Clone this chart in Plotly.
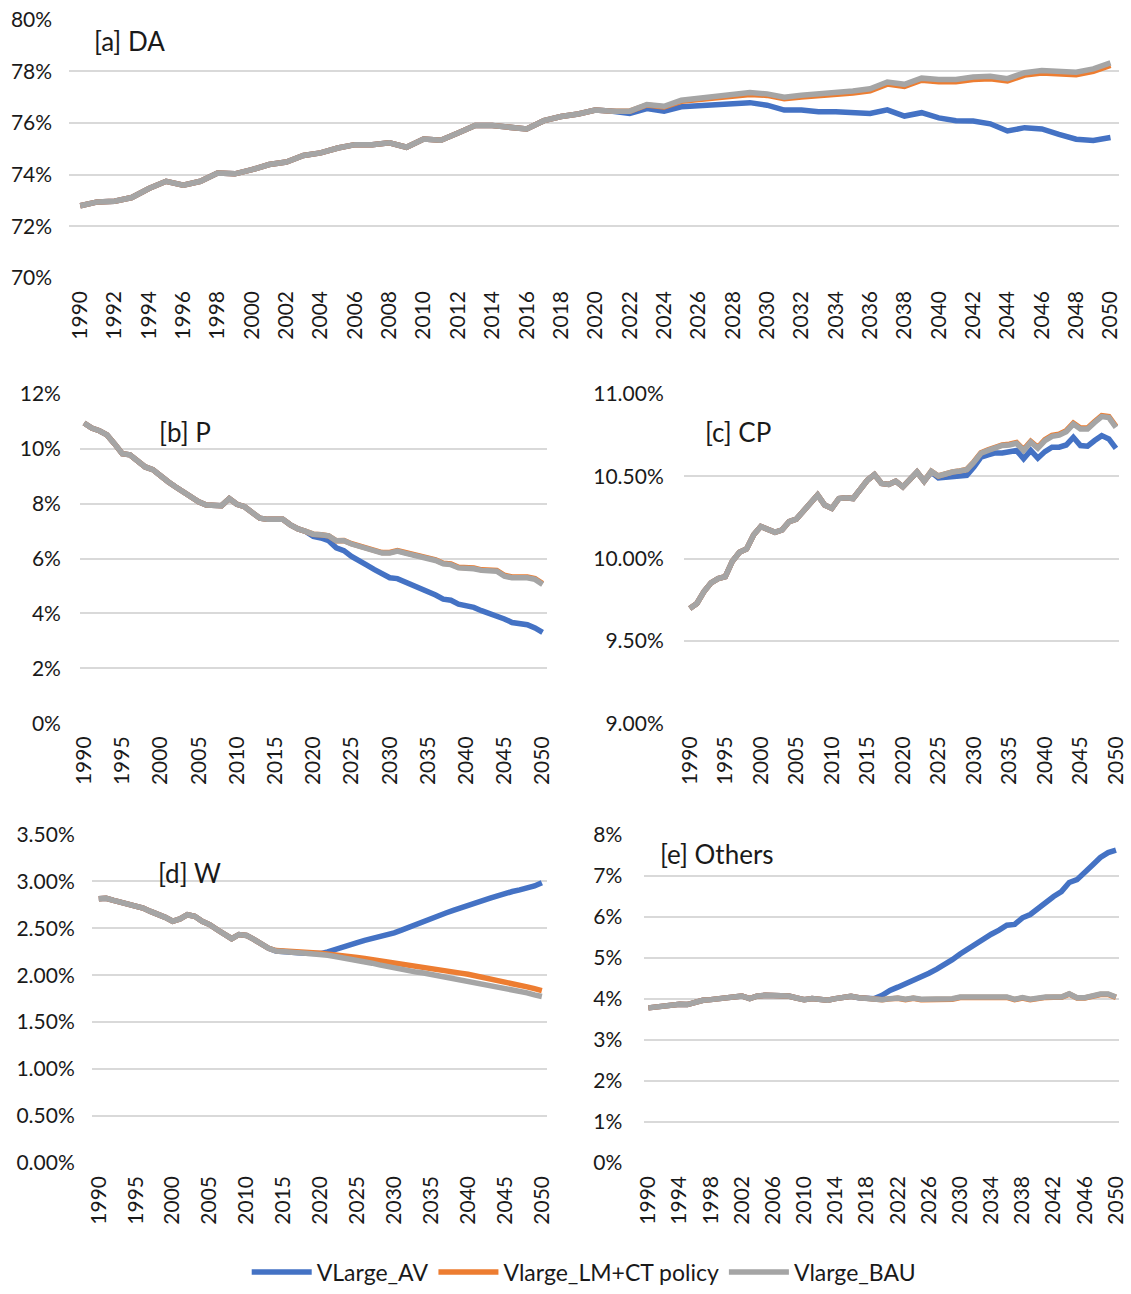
import plotly.graph_objects as go

# ---------------------------------------------------------------------------
# Shares by segment, 1990-2050 (percent)
# ---------------------------------------------------------------------------
years = list(range(1990, 2051))

series_names = ["VLarge_AV", "Vlarge_LM+CT policy", "Vlarge_BAU"]
series_colors = ["#4472C4", "#ED7D31", "#A5A5A5"]

# [a] DA
da_av = [72.79, 72.94, 72.97, 73.11, 73.46, 73.74, 73.59, 73.74, 74.06, 74.03,
         74.19, 74.39, 74.49, 74.74, 74.84, 75.03, 75.16, 75.16, 75.23, 75.06,
         75.38, 75.33, 75.61, 75.90, 75.90, 75.85, 75.77, 76.09, 76.25, 76.35,
         76.50, 76.46, 76.37, 76.56, 76.46, 76.63, 76.67, 76.69, 76.73, 76.79,
         76.69, 76.50, 76.50, 76.44, 76.44, 76.40, 76.37, 76.51, 76.27, 76.40,
         76.20, 76.09, 76.08, 75.97, 75.69, 75.82, 75.77, 75.56, 75.37, 75.32,
         75.44]
da_lmct = [72.79, 72.94, 72.97, 73.11, 73.46, 73.74, 73.59, 73.74, 74.06, 74.03,
           74.19, 74.39, 74.49, 74.74, 74.84, 75.03, 75.16, 75.16, 75.23, 75.06,
           75.38, 75.33, 75.61, 75.90, 75.90, 75.85, 75.77, 76.09, 76.25, 76.35,
           76.50, 76.46, 76.46, 76.70, 76.62, 76.84, 76.90, 76.96, 77.04, 77.11,
           77.07, 76.94, 77.01, 77.05, 77.12, 77.16, 77.25, 77.51, 77.42, 77.66,
           77.60, 77.60, 77.69, 77.72, 77.63, 77.86, 77.94, 77.90, 77.87, 78.00,
           78.23]
da_bau = [72.79, 72.94, 72.97, 73.11, 73.46, 73.74, 73.59, 73.74, 74.06, 74.03,
          74.19, 74.39, 74.49, 74.74, 74.84, 75.03, 75.16, 75.16, 75.23, 75.06,
          75.38, 75.33, 75.61, 75.90, 75.90, 75.85, 75.77, 76.09, 76.25, 76.35,
          76.50, 76.46, 76.46, 76.72, 76.65, 76.88, 76.95, 77.01, 77.10, 77.18,
          77.13, 77.00, 77.08, 77.12, 77.20, 77.24, 77.33, 77.59, 77.50, 77.74,
          77.69, 77.69, 77.78, 77.81, 77.72, 77.95, 78.04, 78.00, 77.97, 78.10,
          78.33]

# [b] P
p_av = [10.94, 10.76, 10.66, 10.51, 10.18, 9.82, 9.78, 9.58, 9.34, 9.24,
        9.00, 8.80, 8.61, 8.43, 8.25, 8.07, 7.95, 7.93, 7.93, 8.19,
        7.98, 7.89, 7.65, 7.47, 7.43, 7.43, 7.43, 7.23, 7.08, 6.99,
        6.81, 6.75, 6.65, 6.39, 6.29, 6.08, 5.90, 5.76, 5.60, 5.45,
        5.30, 5.27, 5.16, 5.04, 4.92, 4.82, 4.67, 4.52, 4.48, 4.34,
        4.28, 4.22, 4.10, 4.00, 3.95, 3.80, 3.67, 3.64, 3.59, 3.47,
        3.31]
p_lmct = [10.94, 10.76, 10.66, 10.51, 10.18, 9.82, 9.78, 9.58, 9.34, 9.24,
          9.00, 8.80, 8.61, 8.43, 8.25, 8.07, 7.95, 7.93, 7.93, 8.19,
          7.98, 7.89, 7.65, 7.47, 7.43, 7.43, 7.43, 7.23, 7.08, 6.99,
          6.89, 6.87, 6.83, 6.65, 6.66, 6.54, 6.46, 6.40, 6.30, 6.22,
          6.22, 6.29, 6.22, 6.16, 6.10, 6.02, 5.95, 5.83, 5.80, 5.68,
          5.68, 5.66, 5.59, 5.56, 5.57, 5.39, 5.33, 5.33, 5.33, 5.27,
          5.09]
p_bau = [10.94, 10.76, 10.66, 10.51, 10.18, 9.82, 9.78, 9.58, 9.34, 9.24,
         9.00, 8.80, 8.61, 8.43, 8.25, 8.07, 7.95, 7.93, 7.93, 8.19,
         7.98, 7.89, 7.65, 7.47, 7.43, 7.43, 7.43, 7.23, 7.08, 6.99,
         6.89, 6.87, 6.83, 6.65, 6.65, 6.53, 6.45, 6.39, 6.29, 6.20,
         6.20, 6.27, 6.20, 6.14, 6.08, 6.00, 5.93, 5.81, 5.78, 5.66,
         5.66, 5.63, 5.57, 5.54, 5.54, 5.36, 5.30, 5.30, 5.30, 5.24,
         5.06]

# [c] CP
cp_av = [9.697, 9.727, 9.800, 9.853, 9.878, 9.890, 9.984, 10.038, 10.058, 10.145,
         10.195, 10.175, 10.160, 10.175, 10.225, 10.240, 10.285, 10.335, 10.386, 10.325,
         10.305, 10.365, 10.370, 10.365, 10.426, 10.476, 10.510, 10.456, 10.450, 10.470,
         10.436, 10.486, 10.526, 10.470, 10.525, 10.490, 10.494, 10.502, 10.506, 10.506,
         10.556, 10.616, 10.630, 10.642, 10.642, 10.650, 10.657, 10.606, 10.657, 10.610,
         10.650, 10.677, 10.677, 10.690, 10.737, 10.687, 10.683, 10.717, 10.747, 10.727,
         10.670]
cp_lmct = [9.697, 9.727, 9.800, 9.853, 9.878, 9.890, 9.984, 10.038, 10.058, 10.145,
           10.195, 10.175, 10.160, 10.175, 10.225, 10.240, 10.285, 10.335, 10.386, 10.325,
           10.305, 10.365, 10.370, 10.365, 10.426, 10.476, 10.510, 10.456, 10.450, 10.470,
           10.436, 10.486, 10.526, 10.470, 10.530, 10.502, 10.516, 10.527, 10.533, 10.542,
           10.588, 10.643, 10.661, 10.674, 10.691, 10.695, 10.705, 10.662, 10.712, 10.676,
           10.722, 10.749, 10.756, 10.777, 10.823, 10.793, 10.793, 10.833, 10.869, 10.863,
           10.803]
cp_bau = [9.697, 9.727, 9.800, 9.853, 9.878, 9.890, 9.984, 10.038, 10.058, 10.145,
          10.195, 10.175, 10.160, 10.175, 10.225, 10.240, 10.285, 10.335, 10.386, 10.325,
          10.305, 10.365, 10.370, 10.365, 10.426, 10.476, 10.510, 10.456, 10.450, 10.470,
          10.436, 10.486, 10.526, 10.470, 10.530, 10.502, 10.516, 10.526, 10.532, 10.540,
          10.586, 10.640, 10.657, 10.670, 10.687, 10.690, 10.700, 10.657, 10.707, 10.670,
          10.717, 10.743, 10.750, 10.771, 10.817, 10.787, 10.787, 10.827, 10.863, 10.857,
          10.797]

# [d] W
w_av = [2.814, 2.820, 2.797, 2.775, 2.750, 2.740, 2.716, 2.680, 2.656, 2.617,
        2.575, 2.600, 2.645, 2.628, 2.575, 2.540, 2.487, 2.434, 2.389, 2.434,
        2.424, 2.381, 2.330, 2.287, 2.258, 2.248, 2.240, 2.240, 2.234, 2.230,
        2.230, 2.248, 2.276, 2.300, 2.329, 2.346, 2.371, 2.389, 2.410, 2.427,
        2.452, 2.480, 2.512, 2.547, 2.575, 2.600, 2.635, 2.663, 2.691, 2.720,
        2.740, 2.768, 2.797, 2.821, 2.846, 2.874, 2.892, 2.910, 2.927, 2.951,
        2.986]
w_lmct = [2.814, 2.820, 2.797, 2.775, 2.750, 2.740, 2.716, 2.680, 2.656, 2.617,
          2.575, 2.600, 2.645, 2.628, 2.575, 2.540, 2.487, 2.434, 2.389, 2.434,
          2.424, 2.381, 2.330, 2.287, 2.262, 2.255, 2.250, 2.250, 2.245, 2.240,
          2.235, 2.228, 2.220, 2.210, 2.200, 2.190, 2.178, 2.165, 2.152, 2.138,
          2.125, 2.113, 2.100, 2.090, 2.078, 2.065, 2.055, 2.044, 2.033, 2.022,
          2.010, 1.995, 1.980, 1.963, 1.947, 1.930, 1.913, 1.895, 1.875, 1.856,
          1.836]
w_bau = [2.814, 2.820, 2.797, 2.775, 2.750, 2.740, 2.716, 2.680, 2.656, 2.617,
         2.575, 2.600, 2.645, 2.628, 2.575, 2.540, 2.487, 2.434, 2.389, 2.434,
         2.424, 2.381, 2.330, 2.287, 2.258, 2.248, 2.240, 2.240, 2.234, 2.230,
         2.223, 2.213, 2.200, 2.188, 2.170, 2.160, 2.146, 2.128, 2.110, 2.093,
         2.072, 2.058, 2.047, 2.033, 2.023, 2.009, 1.995, 1.980, 1.966, 1.952,
         1.938, 1.924, 1.907, 1.893, 1.880, 1.860, 1.847, 1.830, 1.812, 1.790,
         1.773]

# [e] Others
oth_av = [3.775, 3.800, 3.840, 3.863, 3.863, 3.855, 3.920, 3.960, 3.976, 4.000,
          4.016, 4.016, 4.064, 4.000, 4.064, 4.080, 4.080, 4.080, 4.064, 4.016,
          3.976, 4.000, 3.976, 3.960, 4.000, 4.040, 4.056, 4.024, 4.000, 4.000,
          4.080, 4.200, 4.280, 4.360, 4.470, 4.520, 4.620, 4.720, 4.820, 4.950,
          5.090, 5.220, 5.330, 5.450, 5.570, 5.670, 5.790, 5.810, 5.970, 6.050,
          6.210, 6.370, 6.490, 6.610, 6.830, 6.900, 7.060, 7.260, 7.440, 7.560,
          7.620]
oth_lmct = [3.775, 3.800, 3.840, 3.863, 3.863, 3.855, 3.920, 3.960, 3.976, 4.000,
            4.016, 4.016, 4.064, 4.000, 4.064, 4.080, 4.080, 4.080, 4.064, 4.016,
            3.976, 4.000, 3.976, 3.960, 4.000, 4.040, 4.056, 4.024, 4.000, 4.000,
            3.972, 3.994, 4.008, 3.976, 4.006, 3.972, 3.970, 3.970, 3.970, 3.986,
            4.028, 4.044, 4.030, 4.030, 4.030, 4.030, 4.030, 3.976, 4.014, 3.976,
            4.014, 4.030, 4.032, 4.032, 4.110, 4.016, 4.016, 4.070, 4.100, 4.100,
            4.030]
oth_bau = [3.775, 3.800, 3.840, 3.863, 3.863, 3.855, 3.920, 3.960, 3.976, 4.000,
           4.016, 4.016, 4.064, 4.000, 4.064, 4.080, 4.080, 4.080, 4.064, 4.016,
           3.976, 4.000, 3.976, 3.960, 4.000, 4.040, 4.056, 4.024, 4.000, 4.000,
           3.976, 4.000, 4.016, 3.984, 4.016, 3.984, 3.984, 3.984, 3.984, 4.000,
           4.040, 4.056, 4.040, 4.040, 4.040, 4.040, 4.040, 3.984, 4.024, 3.984,
           4.024, 4.040, 4.040, 4.040, 4.120, 4.024, 4.024, 4.080, 4.113, 4.113,
           4.040]

panel_titles = ["[a] DA", "[b] P", "[c] CP", "[d] W", "[e] Others"]

# y-axis ticks per panel
y_ticks_a = [70, 72, 74, 76, 78, 80]
y_ticks_b = [0, 2, 4, 6, 8, 10, 12]
y_ticks_c = [9.0, 9.5, 10.0, 10.5, 11.0]
y_ticks_d = [0.0, 0.5, 1.0, 1.5, 2.0, 2.5, 3.0, 3.5]
y_ticks_e = [0, 1, 2, 3, 4, 5, 6, 7, 8]

# ---------------------------------------------------------------------------
W, H = 1131, 1294
FONT = "Lato"
TXT = "#1a1a1a"
GRID = "#D9D9D9"
TICK_SIZE = 21
LINE_W = 5.5


def px_x(a, b):
    return [a / W, b / W]


def px_y(top, bottom):
    return [1 - bottom / H, 1 - top / H]


panels = [
    dict(data=[da_av, da_lmct, da_bau], xdom=px_x(60, 1126), ydom=px_y(6, 270),
         xr=[1989.35, 2050.5], dtick=2, yt=y_ticks_a, yfmt=".0f", ystand=16,
         title_pos=(83, 28)),
    dict(data=[p_av, p_lmct, p_bau], xdom=px_x(71, 545), ydom=px_y(389, 726),
         xr=[1989.46, 2050.55], dtick=5, yt=y_ticks_b, yfmt=".0f", ystand=18,
         title_pos=(149, 428)),
    dict(data=[cp_av, cp_lmct, cp_bau], xdom=px_x(684, 1126), ydom=px_y(389, 726),
         xr=[1989.15, 2050.44], dtick=5, yt=y_ticks_c, yfmt=".2f", ystand=19,
         title_pos=(704, 428)),
    dict(data=[w_av, w_lmct, w_bau], xdom=px_x(83, 545), ydom=px_y(840, 1176),
         xr=[1989.05, 2050.67], dtick=5, yt=y_ticks_d, yfmt=".2f", ystand=16,
         title_pos=(148, 879)),
    dict(data=[oth_av, oth_lmct, oth_bau], xdom=px_x(644, 1126), ydom=px_y(840, 1176),
         xr=[1989.48, 2050.4], dtick=4, yt=y_ticks_e, yfmt=".0f", ystand=21,
         title_pos=(658, 860)),
]

fig = go.Figure()
layout = dict(
    width=W, height=H,
    margin=dict(l=0, r=0, t=0, b=0),
    paper_bgcolor="white", plot_bgcolor="white",
    font=dict(family=FONT, size=TICK_SIZE, color=TXT),
    showlegend=True,
    legend=dict(orientation="h", x=0.515, xanchor="center", y=1 - 1288 / H,
                yanchor="middle", font=dict(size=23, color=TXT), itemwidth=60,
                bgcolor="rgba(0,0,0,0)"),
    annotations=[],
)

for i, p in enumerate(panels):
    n = "" if i == 0 else str(i + 1)
    xa, ya = "x" + n, "y" + n
    for j, vals in enumerate(p["data"]):
        fig.add_trace(go.Scatter(
            x=years, y=vals, mode="lines", name=series_names[j],
            line=dict(color=series_colors[j], width=LINE_W, shape="linear"),
            xaxis=xa, yaxis=ya, showlegend=(i == 0), legendgroup=series_names[j],
            hoverinfo="x+y",
        ))
    layout["xaxis" + n] = dict(
        domain=p["xdom"], anchor=ya, range=p["xr"], tickmode="linear",
        tick0=1990, dtick=p["dtick"], tickangle=-90, showgrid=False,
        zeroline=False, showline=False, ticks="", ticklabelstandoff=8,
        tickfont=dict(size=TICK_SIZE, color=TXT), fixedrange=True,
    )
    layout["yaxis" + n] = dict(
        domain=p["ydom"], anchor=xa, range=[p["yt"][0], p["yt"][-1]],
        tickmode="array", tickvals=p["yt"],
        ticktext=[format(v, p["yfmt"]) + "%" for v in p["yt"]],
        showgrid=True, gridcolor=GRID, gridwidth=2, zeroline=False,
        showline=False, ticks="", ticklabelstandoff=p["ystand"],
        tickfont=dict(size=TICK_SIZE, color=TXT), fixedrange=True,
    )
    tx, ty = p["title_pos"]
    layout["annotations"].append(dict(
        text=panel_titles[i], xref="paper", yref="paper",
        x=tx / W, y=1 - ty / H, xanchor="left", yanchor="middle",
        showarrow=False, font=dict(size=26, color=TXT, family=FONT),
    ))

fig.update_layout(**layout)
fig.write_html("out.html")
